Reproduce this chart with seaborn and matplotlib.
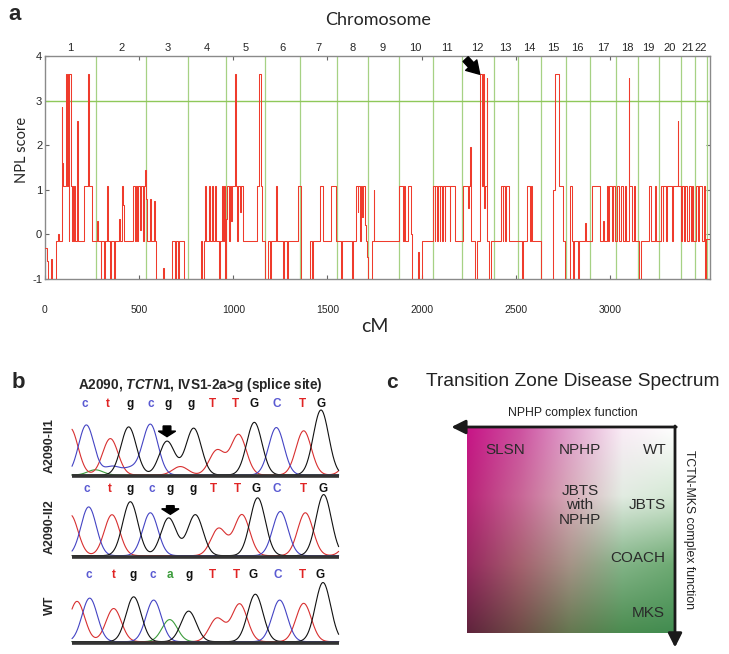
import numpy as np
import matplotlib
matplotlib.use("Agg")
import matplotlib.pyplot as plt
from matplotlib.patches import FancyArrow
import seaborn as sns

sns.set_theme(style="white")
plt.rcParams["font.family"] = ["Liberation Sans", "DejaVu Sans"]
plt.rcParams["mathtext.fontset"] = "custom"
plt.rcParams["mathtext.it"] = "Liberation Sans:italic:bold"
plt.rcParams["mathtext.rm"] = "Liberation Sans:bold"

# ---------------- panel a data ----------------
chrom_bounds = [0, 271, 537, 761, 963, 1170, 1356, 1553, 1713, 1878, 2059, 2213,
                2383, 2511, 2633, 2766, 2894, 3032, 3149, 3261, 3378, 3452, 3516]
chrom_labels = [str(i) for i in range(1, 23)]
x_ticks = [0, 500, 1000, 1500, 2000, 2500, 3000]
y_ticks = [-1, 0, 1, 2, 3, 4]
threshold = 3

npl_cm = [0, 12, 18, 30, 36, 60, 70, 76, 88, 92, 96, 112, 118, 122, 127, 130, 136, 142, 146, 150, 153, 160, 172, 175, 205, 230, 235, 250,
          275, 279, 295, 300, 312, 318, 328, 332, 345, 352, 365, 372, 395, 398, 410, 413, 417, 465, 478, 482, 490, 494, 505, 510, 520, 524, 530, 536, 540, 560, 563, 580, 583, 590, 625, 630, 672, 690, 696, 705, 710, 740,
          830, 835, 845, 850, 855, 870, 874, 888, 891, 905, 910, 925, 932, 940, 945, 952, 956, 962, 966, 975, 980, 990, 995, 1008, 1013, 1020, 1024, 1035, 1040, 1050, 1128, 1136, 1146, 1152,
          1170, 1185, 1195, 1200, 1225, 1232, 1265, 1270, 1285, 1290, 1345, 1360, 1405, 1420, 1426, 1458, 1475, 1518, 1545,
          1570, 1576, 1628, 1634, 1650, 1660, 1664, 1675, 1679, 1686, 1690, 1700, 1706, 1712, 1718, 1735, 1745, 1749,
          1880, 1900, 1905, 1912, 1930, 1944, 1950, 1980, 1986, 2000,
          2059, 2070, 2074, 2084, 2088, 2096, 2100, 2108, 2112, 2122, 2126, 2150, 2153, 2175,
          2222, 2245, 2250, 2258, 2262, 2285, 2292, 2312, 2320, 2328, 2332, 2336, 2345, 2350, 2358, 2368,
          2420, 2430, 2435, 2445, 2450, 2466, 2532, 2538, 2560, 2576, 2580, 2588, 2633,
          2700, 2708, 2730, 2750, 2760, 2790, 2800, 2806, 2812, 2830, 2836, 2870, 2874,
          2905, 2950, 2965, 2969, 2985, 2990, 2998, 3010, 3018, 3026,
          3040, 3048, 3060, 3068, 3080, 3088, 3100, 3104, 3118, 3130, 3136,
          3155, 3165, 3210, 3218, 3240, 3246,
          3270, 3280, 3285, 3300, 3305, 3330, 3336, 3360, 3364, 3376,
          3385, 3395, 3400, 3412, 3418, 3430, 3436, 3444,
          3455, 3468, 3472, 3490, 3500, 3505, 3510, 3532]
npl_score = [-0.3, -0.6, -1, -0.55, -1, -0.15, 0.0, -0.15, 2.85, 1.6, 1.08, 3.6, 1.08, 3.6, -0.15, 3.6, 1.08, -0.15, 1.08, -0.15, 1.08, -0.15, 2.55, -0.15, 1.08, 3.6, 1.08, -0.15,
             0.3, -0.15, -1, -0.15, -1, -0.15, 1.08, -0.15, -1, -0.15, -1, -0.15, 0.35, -0.15, 1.08, 0.65, -0.15, 1.08, -0.15, 1.08, -0.15, 1.08, 0.1, 1.08, -0.15, 1.08, 1.45, 0.8, -0.15, 0.8, -0.15, 0.75, -0.15, -1, -0.75, -1, -0.15, -1, -0.15, -1, -0.15, -1,
             -0.15, -1, -0.15, 1.08, -0.15, 1.08, -0.15, 1.08, -0.15, 1.08, -0.15, -1, -0.15, 1.08, -0.15, 1.08, -1, 0.35, 1.08, -0.15, 1.08, 0.3, 1.08, 3.6, 1.08, -0.15, 1.08, 0.5, 1.08, -0.15, 1.08, 3.6, 1.08, -0.15,
             -1, -0.15, -1, -0.15, 1.08, -0.15, -1, -0.15, -1, -0.15, 1.08, -1, -0.15, -1, -0.15, 1.08, -0.15, 1.08, -0.15,
             -1, -0.15, -1, -0.15, 1.08, 0.5, 1.08, -0.15, 1.08, 0.4, 1.08, 0.2, -0.15, -0.5, -1, -0.15, 1.0, -0.15,
             1.08, -0.15, 1.08, -0.15, 1.08, 0.0, -1, -0.4, -1, -0.15,
             1.08, -0.15, 1.08, -0.15, 1.08, -0.15, 1.08, -0.15, 1.08, -0.15, 1.08, -0.15, 1.08, -0.15,
             1.08, 0.6, 1.08, 1.95, -0.15, -1, -0.15, 3.6, 1.08, 3.6, 0.6, 1.08, 3.5, -0.15, -1, -0.15,
             1.08, -0.15, 1.08, -0.15, 1.08, -0.15, -1, -0.15, 1.08, -0.15, 1.08, -0.15, -1,
             1.0, 3.6, 1.08, -0.15, -1, 1.08, -0.15, -1, -0.15, -1, -0.15, 0.25, -0.15,
             1.08, -0.15, 0.3, -0.15, 1.08, -0.15, 1.08, -0.15, 1.08, -0.15,
             1.08, -0.15, 1.08, -0.15, 1.08, -0.15, 3.5, 1.08, -0.15, 1.08, -0.15,
             -1, -0.15, 1.08, -0.15, 1.08, -0.15,
             1.08, -0.15, 1.08, -0.15, 1.08, -0.15, 1.08, 2.55, 1.08, -0.15,
             1.08, -0.15, 1.08, -0.15, 1.08, -0.15, 1.08, -0.15,
             1.08, -0.15, 1.08, -0.15, 1.08, -1, -0.1, -0.1]

# ---------------- panel b data ----------------
row_names = ["A2090-II1", "A2090-II2", "WT"]
row_base = [0.0, -1.241, -2.564]
row_letter_y = [1.092, 1.02, 1.026]
seq_rows = [list("ctgcggTTGCTG"), list("ctgcggTTGCTG"), list("ctgcagTTGCTG")]
letter_pos = [[3.8, 10.8, 17.3, 23.5, 28.8, 35.8, 42.0, 49.0, 54.7, 61.3, 69.0, 74.7],
              [4.5, 11.3, 17.5, 24.0, 29.5, 36.3, 42.5, 49.5, 55.3, 61.5, 69.3, 75.2],
              [5.0, 12.5, 18.3, 24.3, 29.3, 35.0, 42.2, 49.2, 54.3, 61.7, 69.0, 74.5]]
peak_base = [list("tctgcggttgctgtcact"), list("tctgcggttgctgt"), list("tctgcagttgctg")]
peak_pos = [[-0.5, 4.3, 11.5, 17.0, 23.5, 28.5, 36.5, 43.5, 50.0, 54.7, 61.3, 69.5, 74.7, 84.0, 12.0, 7.0, 17.5, 32.5],
            [-0.5, 5.0, 12.0, 17.5, 23.5, 29.0, 37.0, 44.0, 51.0, 55.7, 62.5, 70.0, 75.5, 84.0],
            [1.5, 5.3, 12.5, 18.5, 24.5, 29.3, 35.0, 43.5, 50.3, 55.0, 62.3, 69.5, 75.3]]
peak_height = [[0.72, 0.77, 0.56, 0.74, 0.78, 0.52, 0.72, 0.38, 0.62, 0.81, 0.73, 0.68, 1.0, 0.3, 0.13, 0.08, 0.1, 0.13],
               [0.63, 0.75, 0.63, 0.83, 0.66, 0.58, 0.63, 0.42, 0.63, 0.89, 0.68, 0.66, 0.94, 0.3],
               [0.62, 0.67, 0.51, 0.69, 0.64, 0.34, 0.47, 0.36, 0.58, 0.73, 0.64, 0.59, 0.91]]
mutant_arrow_pos = [28.5, 29.5]
trace_colors = {"a": "#3c9c3c", "c": "#4444c4", "g": "#111111", "t": "#d83030"}
letter_colors = {"a": "#3c9c3c", "c": "#5a5ad2", "g": "#111111", "t": "#e02424"}

# ---------------- panel c data ----------------
# colour grid: rows top -> bottom, columns left -> right
grid_rgb = np.array([
    [[200, 20, 135], [205, 80, 160], [225, 160, 205], [250, 236, 246], [255, 255, 255]],
    [[185, 35, 120], [200, 100, 150], [215, 172, 185], [226, 236, 226], [212, 232, 212]],
    [[150, 40, 95], [165, 95, 110], [165, 148, 135], [130, 180, 135], [110, 170, 115]],
    [[95, 35, 60], [110, 75, 70], [100, 120, 80], [75, 140, 80], [65, 140, 80]],
]) / 255.0
disease_labels = ["SLSN", "NPHP", "WT", "JBTS\nwith\nNPHP", "JBTS", "COACH", "MKS"]
disease_u = [0.183, 0.543, 0.904, 0.543, 0.865, 0.822, 0.870]
disease_v = [0.888, 0.888, 0.888, 0.621, 0.621, 0.364, 0.097]

W, H = 729, 654
fig = plt.figure(figsize=(W / 100, H / 100), dpi=100)

# ================= panel a =================
ax = fig.add_axes([45 / W, 1 - 279 / H, 665 / W, 223 / H])
green = "#8fc85a"
for b in chrom_bounds[1:]:
    ax.axvline(b, color="#a6d184", lw=0.9, zorder=1)
ax.axhline(threshold, color=green, lw=1.0, zorder=1)
sns.lineplot(x=npl_cm, y=npl_score, ax=ax, color="#ef3b2c", lw=0.75,
             drawstyle="steps-post", estimator=None, sort=False, zorder=3)
ax.set_xlim(0, 3532)
ax.set_ylim(-1, 4)
ax.set_xticks(x_ticks)
ax.set_xticklabels([str(t) for t in x_ticks], fontsize=7.5)
ax.set_yticks(y_ticks)
ax.set_yticklabels([str(t) for t in y_ticks], fontsize=8)
ax.tick_params(axis="x", direction="in", length=3, width=0.8, color="#666",
               top=True, bottom=True, pad=19)
ax.tick_params(axis="y", direction="in", length=3, width=0.8, color="#666",
               left=True, right=True, pad=2)
ax.set_xlabel("")
ax.set_ylabel("")
for s in ax.spines.values():
    s.set_color("#8a8a8a")
    s.set_linewidth(1.0)
mids = [(chrom_bounds[i] + chrom_bounds[i + 1]) / 2 for i in range(22)]
for m, lab in zip(mids, chrom_labels):
    ax.text(m, 1.036, lab, transform=ax.get_xaxis_transform(), ha="center",
            va="center", fontsize=8)
ax.annotate("", xy=(2309, 3.59), xytext=(2234, 3.93),
            arrowprops=dict(arrowstyle="simple,head_width=1.1,head_length=0.9,tail_width=0.5",
                            color="black", shrinkA=0, shrinkB=0, mutation_scale=10),
            annotation_clip=False)
fig.text(378 / W, 1 - 20 / H, "Chromosome", ha="center", va="center", fontsize=13,
         family=["Lato", "DejaVu Sans"])
fig.text(375 / W, 1 - 326 / H, "cM", ha="center", va="center", fontsize=14,
         family=["Lato", "DejaVu Sans"])
fig.text(22 / W, 1 - 150 / H, "NPL score", ha="center", va="center", fontsize=10.5,
         rotation=90, family=["Lato", "DejaVu Sans"])
fig.text(15 / W, 1 - 15 / H, "a", ha="center", va="center", fontsize=16, fontweight="bold")

# ================= panel b =================
axb = fig.add_axes([20 / W, 1 - 650 / H, 325 / W, 285 / H])
axb.set_xlim(-15.6, 81.9)
axb.set_ylim(-2.692, 1.692)
axb.axis("off")
xs = np.linspace(0, 80, 801)
sig = 2.3
for r in range(3):
    base = row_base[r]
    for nt in "atcg":
        ys = np.zeros_like(xs)
        found = False
        for b, p, h in zip(peak_base[r], peak_pos[r], peak_height[r]):
            if b == nt:
                ys += h * np.exp(-(xs - p) ** 2 / (2 * sig ** 2))
                found = True
        if found:
            axb.plot(xs, base + ys, color=trace_colors[nt], lw=0.8, zorder=2)
    axb.plot([0, 80], [base - 0.015, base - 0.015], color="#333333", lw=2.6,
             solid_capstyle="butt", zorder=3)
    for ch, p in zip(seq_rows[r], letter_pos[r]):
        axb.text(p, base + row_letter_y[r], ch, color=letter_colors[ch.lower()],
                 ha="center", va="center", fontsize=8.5, fontweight="bold")
    label_y = [0.46, -0.795, -2.0][r]
    axb.text(-6.6, label_y, row_names[r], rotation=90, ha="center", va="center",
             fontsize=9, fontweight="bold")
arrow_tops = [0.754, -0.472]
arrow_tips = [0.59, -0.605]
for p, t0, t1 in zip(mutant_arrow_pos, arrow_tops, arrow_tips):
    axb.add_patch(FancyArrow(p, t0, 0, t1 - t0, width=2.3, head_width=5.2,
                             head_length=0.085, length_includes_head=True,
                             color="black", zorder=4))
axb.text(38.4, 1.385, r"A2090, $\mathit{TCTN1}$, IVS1-2a>g (splice site)", ha="center",
         va="center", fontsize=9.8, fontweight="bold")
fig.text(18 / W, 1 - 382 / H, "b", ha="center", va="center", fontsize=16, fontweight="bold")

# ================= panel c =================
axc = fig.add_axes([467 / W, 1 - 633 / H, 208 / W, 206 / H])
nr, nc = grid_rgb.shape[0], grid_rgb.shape[1]
n = 240
uc = np.linspace(0, nc - 1, n)
ci = np.clip(np.floor(uc).astype(int), 0, nc - 2)
cf = uc - ci
ur = np.linspace(0, nr - 1, n)
ri = np.clip(np.floor(ur).astype(int), 0, nr - 2)
rf = ur - ri
rows_interp = grid_rgb[:, ci, :] * (1 - cf)[None, :, None] + grid_rgb[:, ci + 1, :] * cf[None, :, None]
img = rows_interp[ri, :, :] * (1 - rf)[:, None, None] + rows_interp[ri + 1, :, :] * rf[:, None, None]
axc.imshow(np.clip(img, 0, 1), extent=[0, 1, 0, 1], origin="upper", aspect="auto",
           interpolation="bilinear")
axc.set_xlim(0, 1)
axc.set_ylim(0, 1)
axc.axis("off")
axc.annotate("", xy=(-0.075, 1.0), xytext=(1.006, 1.0),
             arrowprops=dict(arrowstyle="-|>,head_length=0.6,head_width=0.3", lw=2.0,
                             color="#1a1a1a", shrinkA=0, shrinkB=0, mutation_scale=14),
             annotation_clip=False)
axc.annotate("", xy=(1.0, -0.07), xytext=(1.0, 1.005),
             arrowprops=dict(arrowstyle="-|>,head_length=0.6,head_width=0.3", lw=2.0,
                             color="#1a1a1a", shrinkA=0, shrinkB=0, mutation_scale=14),
             annotation_clip=False)
for lab, uu, vv in zip(disease_labels, disease_u, disease_v):
    axc.text(uu, vv, lab, ha="center", va="center", fontsize=11, color="#2a2a2a",
             linespacing=1.05)
axc.text(0.51, 1.07, "NPHP complex function", ha="center", va="center", fontsize=8.8,
         color="#222", clip_on=False)
axc.text(1.065, 0.5, "TCTN-MKS complex function", ha="center", va="center", fontsize=8.8,
         rotation=-90, color="#222", clip_on=False)
fig.text(573 / W, 1 - 382 / H, "Transition Zone Disease Spectrum", ha="center",
         va="center", fontsize=13.8, color="#222")
fig.text(392 / W, 1 - 382 / H, "c", ha="center", va="center", fontsize=15, fontweight="bold")

fig.savefig("out.png", dpi=100)
